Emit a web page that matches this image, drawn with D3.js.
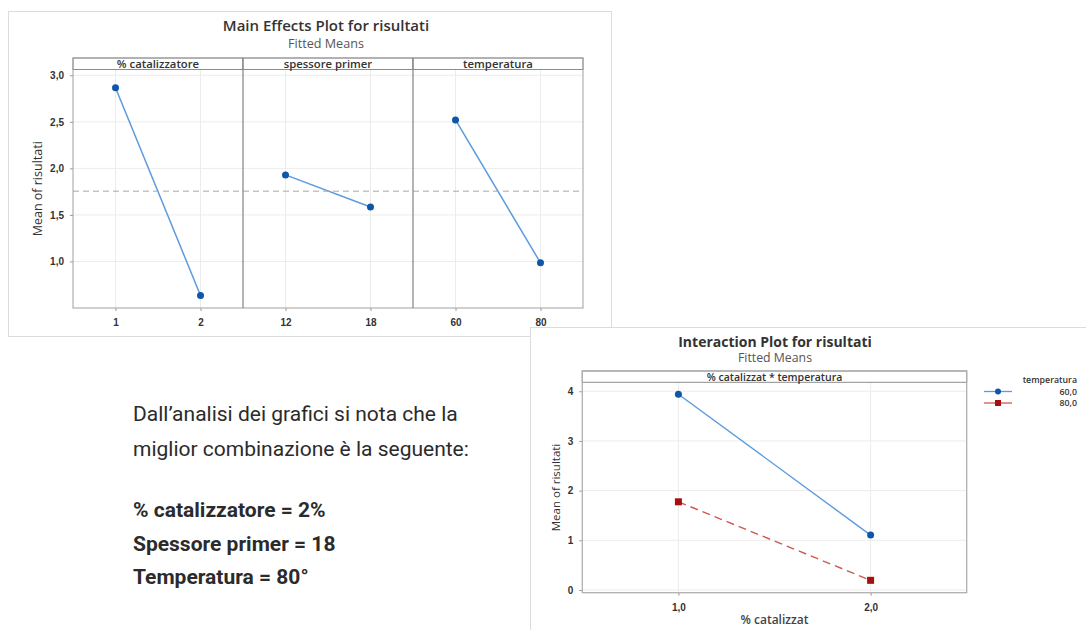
<!DOCTYPE html>
<html lang="it">
    <head>
        <meta charset="UTF-8">
        <title>Main Effects / Interaction Plot</title>
        <style>
            body {
                margin: 0;
                background-color: #ffffff;
            }
            svg {
                display: block;
            }
            .chart-text {
                font-family: 'Open Sans', 'Noto Sans', sans-serif;
            }
            .grid line {
                stroke: #ececec;
                stroke-width: 1px;
            }
            .tick-label {
                font-size: 10px;
                font-weight: 600;
                fill: #333;
            }
            .note {
                font-family: Roboto, sans-serif;
                font-size: 21px;
                fill: #2b2b2b;
            }
        </style>
    </head>
    <body>
        <div id="chart"></div>

        <script src="https://d3js.org/d3.v7.min.js"></script>
        <script>
            // data
            const factorNames = ["% catalizzatore", "spessore primer", "temperatura"];
            const factorLevels = [["1", "2"], ["12", "18"], ["60", "80"]];
            const factorMeans = [[2.865, 0.635], [1.93, 1.585], [2.52, 0.985]];
            const grandMean = 1.755;
            const mainTicks = [1.0, 1.5, 2.0, 2.5, 3.0];

            const catLevels = [1, 2];
            const catLabels = ["1,0", "2,0"];
            const tempLabels = ["60,0", "80,0"];
            const means60 = [3.94, 1.105];
            const means80 = [1.775, 0.195];
            const interTicks = [0, 1, 2, 3, 4];

            const noteLines = ["Dall\u2019analisi dei grafici si nota che la", "miglior combinazione è la seguente:"];
            const resultLines = ["% catalizzatore = 2%", "Spessore primer = 18", "Temperatura = 80°"];

            // definitions
            const width = 1086;
            const height = 630;
            const blueLine = "#5b9bde";
            const blueDot = "#0d56a8";
            const redLine = "#d0574f";
            const redDot = "#a50f0f";
            const comma = v => d3.format(".1f")(v).replace(".", ",");

            const svg = d3.select("#chart").append("svg")
                .attr("width", width)
                .attr("height", height);

            svg.append("rect").attr("width", width).attr("height", height).attr("fill", "#fff");

            // ---------- Main effects plot ----------
            const main = svg.append("g").attr("class", "chart-text");
            main.append("rect")
                .attr("x", 8.5).attr("y", 11.5).attr("width", 603).attr("height", 325)
                .attr("fill", "#fff").attr("stroke", "#dcdcdc");

            main.append("text").attr("x", 326).attr("y", 30.5)
                .attr("text-anchor", "middle").attr("font-size", 15).attr("font-weight", 600)
                .attr("fill", "#333").text("Main Effects Plot for risultati");
            main.append("text").attr("x", 326).attr("y", 48)
                .attr("text-anchor", "middle").attr("font-size", 12.6).attr("fill", "#555")
                .text("Fitted Means");

            const mTop = 69.5, mBottom = 308, mLeft = 73, mRight = 583, stripTop = 58;
            const panelW = (mRight - mLeft) / factorNames.length;
            const yMain = d3.scaleLinear().domain([0.5, 3.062]).range([mBottom, mTop]);

            // y ticks + labels
            main.append("g").attr("class", "grid")
                .selectAll("line").data(mainTicks).enter().append("line")
                .attr("x1", mLeft).attr("x2", mRight)
                .attr("y1", d => yMain(d)).attr("y2", d => yMain(d));

            main.append("g").call(d3.axisLeft(yMain).tickValues(mainTicks).tickFormat(comma).tickSize(3))
                .attr("transform", `translate(${mLeft},0)`)
                .call(g => g.select(".domain").remove())
                .call(g => g.selectAll("line").attr("stroke", "#999"))
                .call(g => g.selectAll("text").attr("class", "tick-label").attr("font-family", null).attr("dx", "-3"));

            main.append("text")
                .attr("transform", `translate(42,${(mTop + mBottom) / 2}) rotate(-90)`)
                .attr("text-anchor", "middle").attr("font-size", 12.5).attr("fill", "#333")
                .text("Mean of risultati");

            factorNames.forEach((name, i) => {
                const x0 = mLeft + i * panelW;
                const xs = d3.scalePoint().domain(factorLevels[i]).range([x0, x0 + panelW]).padding(0.5);
                const p = main.append("g");

                p.append("g").attr("class", "grid")
                    .selectAll("line").data(factorLevels[i]).enter().append("line")
                    .attr("x1", d => xs(d)).attr("x2", d => xs(d))
                    .attr("y1", mTop).attr("y2", mBottom);

                p.append("g").attr("transform", `translate(0,${mBottom})`)
                    .call(d3.axisBottom(xs).tickSize(3))
                    .call(g => g.select(".domain").remove())
                    .call(g => g.selectAll("line").attr("stroke", "#999"))
                    .call(g => g.selectAll("text").attr("class", "tick-label").attr("font-family", null).attr("dy", "1.2em"));

                // strip
                p.append("rect").attr("x", x0).attr("y", stripTop).attr("width", panelW).attr("height", mTop - stripTop)
                    .attr("fill", "#fff").attr("stroke", "#8c8c8c");
                p.append("text").attr("x", x0 + panelW / 2).attr("y", stripTop + 10)
                    .attr("text-anchor", "middle").attr("font-size", 11.3).attr("font-weight", 600)
                    .attr("fill", "#333").text(name);

                const pts = factorLevels[i].map((lv, j) => [xs(lv), yMain(factorMeans[i][j])]);
                p.append("path").attr("d", d3.line()(pts))
                    .attr("fill", "none").attr("stroke", blueLine).attr("stroke-width", 1.5);
                p.selectAll("circle").data(pts).enter().append("circle")
                    .attr("cx", d => d[0]).attr("cy", d => d[1]).attr("r", 3.5).attr("fill", blueDot);
            });

            // grand mean reference line
            main.append("line")
                .attr("x1", mLeft).attr("x2", mRight)
                .attr("y1", yMain(grandMean)).attr("y2", yMain(grandMean))
                .attr("stroke", "#a8a8a8").attr("stroke-dasharray", "6,4");

            // panel frame + dividers
            main.append("rect").attr("x", mLeft).attr("y", stripTop).attr("width", mRight - mLeft).attr("height", mBottom - stripTop)
                .attr("fill", "none").attr("stroke", "#a0a0a0");
            main.selectAll(".divider").data([1, 2]).enter().append("line")
                .attr("x1", d => mLeft + d * panelW).attr("x2", d => mLeft + d * panelW)
                .attr("y1", stripTop).attr("y2", mBottom)
                .attr("stroke", "#8c8c8c").attr("stroke-width", 1.3);

            // ---------- Interaction plot ----------
            const inter = svg.append("g").attr("class", "chart-text");
            inter.append("rect")
                .attr("x", 530.5).attr("y", 327.5).attr("width", 600).attr("height", 320)
                .attr("fill", "#fff").attr("stroke", "#dcdcdc");

            inter.append("text").attr("x", 775).attr("y", 347)
                .attr("text-anchor", "middle").attr("font-size", 14).attr("font-weight", 700)
                .attr("fill", "#333").text("Interaction Plot for risultati");
            inter.append("text").attr("x", 775).attr("y", 362)
                .attr("text-anchor", "middle").attr("font-size", 12.3).attr("fill", "#555")
                .text("Fitted Means");

            const iTop = 382.3, iBottom = 592.7, iLeft = 582.3, iRight = 966.7, iStrip = 371;
            const xInt = d3.scaleLinear().domain([0.5, 2.5]).range([iLeft, iRight]);
            const yInt = d3.scaleLinear().domain([-0.054, 4.18]).range([iBottom, iTop]);

            const ig = inter.append("g").attr("class", "grid");
            ig.selectAll(".h").data(interTicks).enter().append("line")
                .attr("x1", iLeft).attr("x2", iRight)
                .attr("y1", d => yInt(d)).attr("y2", d => yInt(d));
            ig.selectAll(".v").data(catLevels).enter().append("line")
                .attr("x1", d => xInt(d)).attr("x2", d => xInt(d))
                .attr("y1", iTop).attr("y2", iBottom);

            inter.append("g").attr("transform", `translate(${iLeft},0)`)
                .call(d3.axisLeft(yInt).tickValues(interTicks).tickFormat(d3.format("d")).tickSize(3))
                .call(g => g.select(".domain").remove())
                .call(g => g.selectAll("line").attr("stroke", "#999"))
                .call(g => g.selectAll("text").attr("class", "tick-label").attr("font-family", null).attr("dx", "-3"));

            inter.append("g").attr("transform", `translate(0,${iBottom})`)
                .call(d3.axisBottom(xInt).tickValues(catLevels).tickFormat((d, i) => catLabels[i]).tickSize(3))
                .call(g => g.select(".domain").remove())
                .call(g => g.selectAll("line").attr("stroke", "#999"))
                .call(g => g.selectAll("text").attr("class", "tick-label").attr("font-family", null).attr("dy", "1.2em"));

            inter.append("text")
                .attr("transform", `translate(560,${(iTop + iBottom) / 2}) rotate(-90)`)
                .attr("text-anchor", "middle").attr("font-size", 11.5).attr("fill", "#333")
                .text("Mean of risultati");
            inter.append("text").attr("x", xInt(1.5)).attr("y", 624)
                .attr("text-anchor", "middle").attr("font-size", 12).attr("font-weight", 600)
                .attr("fill", "#444").text("% catalizzat");

            inter.append("rect").attr("x", iLeft).attr("y", iStrip).attr("width", iRight - iLeft).attr("height", iTop - iStrip)
                .attr("fill", "#fff").attr("stroke", "#8c8c8c");
            inter.append("text").attr("x", (iLeft + iRight) / 2).attr("y", iStrip + 9.5)
                .attr("text-anchor", "middle").attr("font-size", 10.5).attr("font-weight", 600)
                .attr("fill", "#333").text("% catalizzat * temperatura");
            inter.append("rect").attr("x", iLeft).attr("y", iStrip).attr("width", iRight - iLeft).attr("height", iBottom - iStrip)
                .attr("fill", "none").attr("stroke", "#b0b0b0").attr("stroke-width", 1.3);

            const line = d3.line().x(d => xInt(d[0])).y(d => yInt(d[1]));
            const pts60 = catLevels.map((c, j) => [c, means60[j]]);
            const pts80 = catLevels.map((c, j) => [c, means80[j]]);

            inter.append("path").attr("d", line(pts60))
                .attr("fill", "none").attr("stroke", blueLine).attr("stroke-width", 1.4);
            inter.append("path").attr("d", line(pts80))
                .attr("fill", "none").attr("stroke", redLine).attr("stroke-width", 1.4).attr("stroke-dasharray", "8,5");
            inter.selectAll(".c60").data(pts60).enter().append("circle")
                .attr("cx", d => xInt(d[0])).attr("cy", d => yInt(d[1])).attr("r", 3.5).attr("fill", blueDot);
            inter.selectAll(".s80").data(pts80).enter().append("rect")
                .attr("x", d => xInt(d[0]) - 3.5).attr("y", d => yInt(d[1]) - 3.5)
                .attr("width", 7).attr("height", 7).attr("fill", redDot);

            // legend
            const lg = inter.append("g");
            lg.append("text").attr("x", 1077).attr("y", 383)
                .attr("text-anchor", "end").attr("font-size", 8.8).attr("font-weight", 600)
                .attr("fill", "#333").text("temperatura");
            tempLabels.forEach((lab, i) => {
                const y = 391.5 + i * 11.5;
                lg.append("line").attr("x1", 984).attr("x2", 1012).attr("y1", y).attr("y2", y)
                    .attr("stroke", i === 0 ? blueLine : redLine).attr("stroke-width", 1.3);
                if (i === 0) {
                    lg.append("circle").attr("cx", 998).attr("cy", y).attr("r", 3).attr("fill", blueDot);
                } else {
                    lg.append("rect").attr("x", 995).attr("y", y - 3).attr("width", 6).attr("height", 6).attr("fill", redDot);
                }
                lg.append("text").attr("x", 1077).attr("y", y + 3.2)
                    .attr("text-anchor", "end").attr("font-size", 8.8).attr("font-weight", 600)
                    .attr("fill", "#333").text(lab);
            });

            // ---------- note text ----------
            const note = svg.append("g").attr("class", "note");
            note.selectAll(".l").data(noteLines).enter().append("text")
                .attr("x", 133).attr("y", (d, i) => 421 + i * 35)
                .attr("font-weight", 400).text(d => d);
            note.selectAll(".b").data(resultLines).enter().append("text")
                .attr("x", 133).attr("y", (d, i) => 517 + i * 33.5)
                .attr("font-weight", 700).text(d => d);
        </script>
    </body>
</html>
